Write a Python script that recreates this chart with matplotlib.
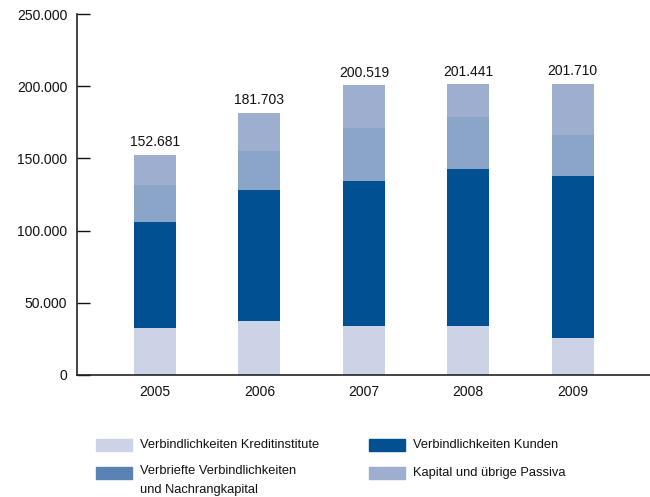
import numpy as np
import matplotlib
matplotlib.use('Agg')
from matplotlib import pyplot as plt
from matplotlib.patches import Rectangle

plt.rcParams['font.family'] = ['Liberation Sans', 'DejaVu Sans']

years = ['2005', '2006', '2007', '2008', '2009']
kredit = [32.5, 37.4, 33.9, 33.9, 25.6]        # Tsd.
kunden = [73.5, 90.7, 100.4, 108.8, 112.2]
verbrieft = [25.6, 27.0, 36.7, 36.0, 28.4]
totals = [152681, 181703, 200519, 201441, 201710]
# Kapital = rest up to total
kapital = [t / 1000 - (a + b + c) for t, a, b, c in zip(totals, kredit, kunden, verbrieft)]

labels = ['Verbindlichkeiten Kreditinstitute', 'Verbindlichkeiten Kunden',
          'Verbriefte Verbindlichkeiten\nund Nachrangkapital', 'Kapital und übrige Passiva']
c_kredit = '#cdd3e6'
c_kunden = '#005092'
c_verbr = '#8ba5c9'
c_verbr_leg = '#5a83b5'
c_kap = '#9daecf'
txt = '#111111'

fig = plt.figure(figsize=(6.5, 4.97), dpi=100)
ax = fig.add_axes([77 / 650, 1 - 375 / 497, 1 - 77 / 650, 361 / 497])

x = np.arange(len(years))
w = 0.4
k = np.array(kredit) * 1000
ku = np.array(kunden) * 1000
v = np.array(verbrieft) * 1000
ka = np.array(kapital) * 1000
ax.bar(x, k, w, color=c_kredit)
ax.bar(x, ku, w, bottom=k, color=c_kunden)
ax.bar(x, v, w, bottom=k + ku, color=c_verbr)
ax.bar(x, ka, w, bottom=k + ku + v, color=c_kap)

for xi, t in zip(x, totals):
    s = '{:,}'.format(t).replace(',', '.')
    ax.annotate(s, (xi, t), xytext=(0, 4), textcoords='offset points',
                ha='center', va='bottom', fontsize=10, color=txt)

ax.set_xlim(-0.746, 4.74)
ax.set_ylim(0, 250000)
ax.set_yticks(np.arange(0, 250001, 50000))
ax.set_yticklabels(['0'] + ['{:,}'.format(t).replace(',', '.') for t in range(50000, 250001, 50000)])
ax.set_xticks(x)
ax.set_xticklabels(years)
ax.tick_params(axis='y', direction='in', length=9, width=1, labelsize=10, colors=txt, pad=7)
ax.tick_params(axis='x', length=0, labelsize=10, colors=txt, pad=7)
for sp in ['top', 'right']:
    ax.spines[sp].set_visible(False)
ax.spines['left'].set_color('#222222')
ax.spines['bottom'].set_color('#222222')
ax.spines['left'].set_linewidth(1.2)
ax.spines['bottom'].set_linewidth(1.2)

# legend drawn by hand so patches align with the first text line
H = 497.0
items = [(96, 439, c_kredit, labels[0]), (369, 439, c_kunden, labels[1]),
         (96, 467, c_verbr_leg, labels[2]), (369, 467, c_kap, labels[3])]
for px, py, col, lab in items:
    fig.patches.append(Rectangle((px / 650, 1 - (py + 12) / H), 36 / 650, 12 / H,
                                 transform=fig.transFigure, color=col))
    fig.text((px + 44) / 650, 1 - (py + 6) / H, lab, fontsize=9.3, color=txt,
             va='top' if '\n' in lab else 'center', linespacing=1.75)
# fix first-line alignment for the two-line label
fig.texts[2].set_position(((96 + 44) / 650, 1 - (467 - 2) / H))

fig.savefig('out.png', dpi=100)
